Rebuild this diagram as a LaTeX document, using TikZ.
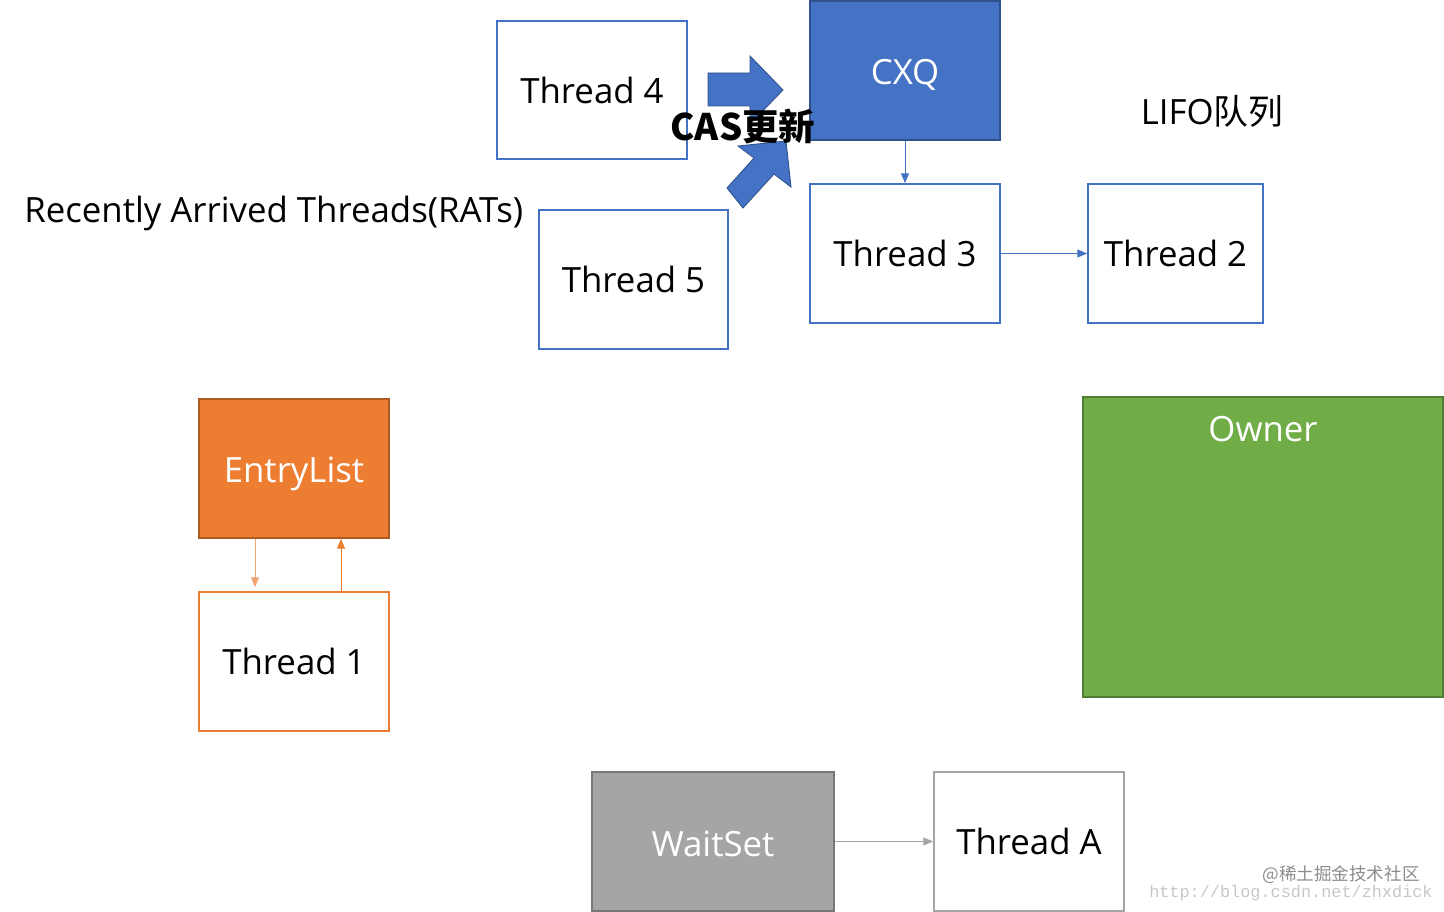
\documentclass[tikz,border=0pt]{standalone}
\usepackage{fontspec}
\setmainfont{Open Sans}
\setmonofont{Liberation Mono}
\newfontfamily\cjk{Noto Sans CJK SC}
\usetikzlibrary{arrows.meta,calc}
\definecolor{cblue}{HTML}{4472C4}
\definecolor{cblued}{HTML}{2F528F}
\definecolor{corange}{HTML}{ED7D31}
\definecolor{coranged}{HTML}{AE5A21}
\definecolor{cgreen}{HTML}{70AD47}
\definecolor{cgreend}{HTML}{507E32}
\definecolor{cgray}{HTML}{A5A5A5}
\definecolor{cgrayd}{HTML}{787878}
\tikzset{
  lbl/.style={font=\fontsize{19.8}{23}\selectfont},
  conn/.style={line width=0.5pt,-{Triangle[length=5.5pt,width=4.5pt]}},
  blockarrow/.style={fill=cblue,draw=cblued,line width=0.5pt},
}
\newcommand\mybox[7]{%
  \node[draw=#6,inner sep=0pt,line width=1pt,minimum width={(#4-#2)*0.02cm},minimum height={(#5-#3)*0.02cm},lbl,#7]
  (#1) at ({(#2+#4)/2},{(#3+#5)/2}) {};}
\begin{document}
\begin{tikzpicture}[x=0.02cm,y=-0.02cm]
\useasboundingbox (0,0) rectangle (1444,912);
% boxes
\mybox{t4}{497}{21}{687}{159}{cblue}{fill=white}
\node[lbl] at (t4) {Thread 4};
\mybox{cxq}{810}{1}{1000}{140}{cblued}{fill=cblue}
\node[lbl,text=white] at ($(cxq)+(0,4)$) {CXQ};
\mybox{t3}{810}{184}{1000}{323}{cblue}{fill=white}
\node[lbl] at (t3) {Thread 3};
\mybox{t2}{1088}{184}{1263}{323}{cblue}{fill=white}
\node[lbl] at (t2) {Thread 2};
\mybox{t5}{539}{210}{728}{349}{cblue}{fill=white}
\node[lbl] at (t5) {Thread 5};
\mybox{el}{199}{399}{389}{538}{coranged}{fill=corange}
\node[lbl,text=white] at ($(el)+(0,5)$) {EntryList};
\mybox{t1}{199}{592}{389}{731}{corange}{fill=white}
\node[lbl] at (t1) {Thread 1};
\mybox{own}{1083}{397}{1443}{697}{cgreend}{fill=cgreen}
\node[lbl,text=white] (ownt) at (1263,429) {Owner};
\mybox{ws}{592}{772}{834}{911}{cgrayd}{fill=cgray}
\node[lbl,text=white] at ($(ws)+(0,2)$) {WaitSet};
\mybox{ta}{934}{772}{1124}{911}{cgray}{fill=white}
\node[lbl] at (ta) {Thread A};
% texts
\node[lbl,anchor=west,inner sep=0pt] (rats) at (24,213) {Recently Arrived Threads(RATs)};
\node[lbl] (lifo) at (1212,111) {LIFO{\cjk 队列}};
% block arrows
\draw[blockarrow] (708,73) -- (750,73) -- (750,56) -- (783,90) -- (750,124) -- (750,106) -- (708,106) -- cycle;
\draw[blockarrow] (727,188) -- (754,158) -- (738,146) -- (786,141) -- (791,187) -- (774,174) -- (743,208) -- cycle;
\node[font=\cjk\bfseries\fontsize{20.8}{25}\selectfont] (cas) at (743,127) {CAS更新};
% connectors
\draw[conn,cblue] (cxq.south) -- (t3.north);
\draw[conn,cblue] (t3.east) -- (t2.west);
\draw[conn,corange!70] ($(el.south)+(-39,0)$) -- ($(t1.north)+(-39,-4)$);
\draw[conn,corange] ($(t1.north)+(47,0)$) -- ($(el.south)+(47,0)$);
\draw[conn,cgray] (ws.east) -- (ta.west);
% watermarks
\node[font=\cjk\fontsize{10}{12}\selectfont,text=black!45,anchor=east,inner sep=0pt] (wm1) at (1420,875) {@稀土掘金技术社区};
\node[font=\ttfamily\fontsize{9.6}{12}\selectfont,text=black!22,anchor=east,inner sep=0pt] (wm2) at (1433,893) {http://blog.csdn.net/zhxdick};
\end{tikzpicture}
\end{document}
